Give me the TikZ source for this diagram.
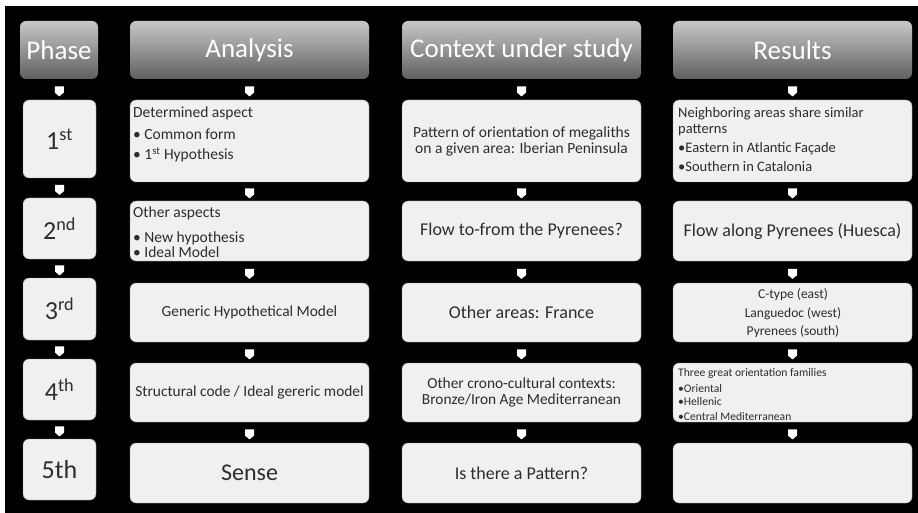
\documentclass[tikz,border=0pt]{standalone}
\usepackage{fontspec}
\setmainfont{Carlito}
\usetikzlibrary{shapes.arrows,calc}
\definecolor{cellfill}{RGB}{240,240,240}
\definecolor{celltext}{RGB}{45,45,45}
\definecolor{hdrtop}{RGB}{200,200,200}
\definecolor{hdrbot}{RGB}{95,95,95}
\definecolor{celledge}{RGB}{150,150,150}
\newcommand{\fs}[2]{\fontsize{#1}{#2}\selectfont}
\begin{document}
\begin{tikzpicture}[x=1pt,y=-1pt,
  hdr/.style={rounded corners=6pt, top color=hdrtop, bottom color=hdrbot, draw=none, text=white, font=\fs{27}{29}, inner sep=0pt},
  cell/.style={rounded corners=6pt, fill=cellfill, draw=celledge, line width=0.4pt, text=celltext, inner sep=0pt, align=center},
  ln/.style={text=celltext, inner sep=0pt, anchor=base west},
  lnc/.style={text=celltext, inner sep=0pt, anchor=base},
  darr/.style={single arrow, shape border rotate=270, fill=white, draw=none, minimum width=9pt, minimum height=10pt, single arrow head extend=0pt, single arrow tip angle=100, inner sep=0pt},
]
\useasboundingbox (0,0) rectangle (918,513);
\fill[white] (0,0) rectangle (918,513);
\fill[black] (5,6) rectangle (918,513);

% headers
\node[hdr, minimum width=78pt, minimum height=58pt] (hP) at (59,50) {Phase};
\node[hdr, minimum width=239pt, minimum height=58pt] (hA) at (249.5,50) {Analysis};
\node[hdr, minimum width=239pt, minimum height=58pt] (hC) at (521.5,50) {Context under study};
\node[hdr, minimum width=239pt, minimum height=58pt] (hR) at (792.5,50) {Results};

% phase column
\node[cell, minimum width=73pt, minimum height=78pt, font=\fs{26}{28}] (p1) at (59.5,139) {1\textsuperscript{st}};
\node[cell, minimum width=73pt, minimum height=61pt, font=\fs{26}{28}] (p2) at (59.5,228.5) {2\textsuperscript{nd}};
\node[cell, minimum width=73pt, minimum height=62pt, font=\fs{26}{28}] (p3) at (59.5,309) {3\textsuperscript{rd}};
\node[cell, minimum width=73pt, minimum height=61pt, font=\fs{26}{28}] (p4) at (59.5,389.5) {4\textsuperscript{th}};
\node[cell, minimum width=73pt, minimum height=61pt, font=\fs{26}{28}] (p5) at (59.5,469.5) {5th};

% analysis column
\node[cell, minimum width=239pt, minimum height=82pt] (a1) at (249.5,141) {};
\node[ln, font=\fs{15.5}{17}] (a1l1) at (133,118) {Determined aspect};
\node[ln, font=\fs{15.5}{17}] (a1l2) at (133,140) {\textbullet\ Common form};
\node[ln, font=\fs{15.5}{17}] (a1l3) at (133,160) {\textbullet\ 1\textsuperscript{st} Hypothesis};
\node[cell, minimum width=239pt, minimum height=60pt] (a2) at (249.5,231) {};
\node[ln, font=\fs{15.5}{17}] (a2l1) at (133,218) {Other aspects};
\node[ln, font=\fs{15.5}{17}] (a2l2) at (133,242) {\textbullet\ New hypothesis};
\node[ln, font=\fs{15.5}{17}] (a2l3) at (133,258) {\textbullet\ Ideal Model};
\node[cell, minimum width=239pt, minimum height=59pt, font=\fs{15.4}{17}] (a3) at (249.5,312.5) {Generic Hypothetical Model};
\node[cell, minimum width=239pt, minimum height=59pt, font=\fs{15.4}{17}] (a4) at (249.5,392.5) {Structural code / Ideal gereric model};
\node[cell, minimum width=239pt, minimum height=60pt, font=\fs{24}{26}] (a5) at (249.5,473) {Sense};

% context column
\node[cell, minimum width=239pt, minimum height=82pt, font=\fs{15.5}{16}] (c1) at (521.5,141) {Pattern of orientation of megaliths\\on a given area: Iberian Peninsula};
\node[cell, minimum width=239pt, minimum height=60pt, font=\fs{18}{20}] (c2) at (521.5,231) {Flow to-from the Pyrenees?};
\node[cell, minimum width=239pt, minimum height=59pt, font=\fs{18}{20}] (c3) at (521.5,312.5) {Other areas: France};
\node[cell, minimum width=239pt, minimum height=59pt, font=\fs{15.4}{15.5}] (c4) at (521.5,392.5) {Other crono-cultural contexts:\\Bronze/Iron Age Mediterranean};
\node[cell, minimum width=239pt, minimum height=60pt, font=\fs{18}{20}] (c5) at (521.5,473) {Is there a Pattern?};

% results column
\node[cell, minimum width=239pt, minimum height=82pt] (r1) at (792.5,141) {};
\node[ln, font=\fs{14.5}{16}] (r1l1) at (678,118) {Neighboring areas share similar};
\node[ln, font=\fs{14.5}{16}] (r1l2) at (678,134) {patterns};
\node[ln, font=\fs{14.5}{16}] (r1l3) at (678,153) {\textbullet Eastern in Atlantic Façade};
\node[ln, font=\fs{14.5}{16}] (r1l4) at (678,172) {\textbullet Southern in Catalonia};
\node[cell, minimum width=239pt, minimum height=60pt, font=\fs{18}{20}] (r2) at (792.5,231) {Flow along Pyrenees (Huesca)};
\node[cell, minimum width=239pt, minimum height=59pt] (r3) at (792.5,312.5) {};
\node[lnc, font=\fs{13.5}{15}] (r3l1) at (793,298) {C-type (east)};
\node[lnc, font=\fs{13.5}{15}] (r3l2) at (793,317) {Languedoc (west)};
\node[lnc, font=\fs{13.5}{15}] (r3l3) at (793,335) {Pyrenees (south)};
\node[cell, minimum width=239pt, minimum height=59pt] (r4) at (792.5,392.5) {};
\node[ln, font=\fs{11.6}{13}] (r4l1) at (678,376) {Three great orientation families};
\node[ln, font=\fs{11.6}{13}] (r4l2) at (678,392) {\textbullet Oriental};
\node[ln, font=\fs{11.6}{13}] (r4l3) at (678,405) {\textbullet Hellenic};
\node[ln, font=\fs{11.6}{13}] (r4l4) at (678,420) {\textbullet Central Mediterranean};
\node[cell, minimum width=239pt, minimum height=60pt] (r5) at (792.5,473) {};

% block arrows
\foreach \c/\h in {p/hP,a/hA,c/hC,r/hR}{
  \node[darr] (\c-ar0) at ($(\h.south)!0.5!(\c1.north)$) {};
  \foreach \i [evaluate=\i as \j using int(\i+1)] in {1,...,4}
    \node[darr] (\c-ar\i) at ($(\c\i.south)!0.5!(\c\j.north)$) {};
}
\end{tikzpicture}
\end{document}
